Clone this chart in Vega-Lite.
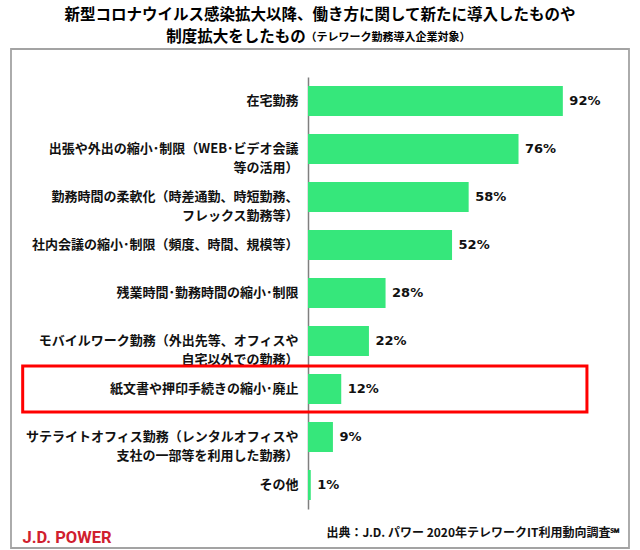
{
  "$schema": "https://vega.github.io/schema/vega-lite/v6.json",
  "width": 618,
  "height": 499,
  "autosize": {"type": "none"},
  "padding": {"left": 11, "top": 49, "right": 11, "bottom": 2},
  "background": "white",
  "config": {
    "font": "Noto Sans CJK JP",
    "view": {"stroke": "#a3a3a3", "strokeWidth": 1.8}
  },
  "title": {
    "text": [
      "新型コロナウイルス感染拡大以降、働き方に関して新たに導入したものや",
      "制度拡大をしたもの⠀⠀⠀⠀⠀⠀⠀⠀⠀⠀⠀⠀⠀⠀"
    ],
    "subtitle": "⠀⠀⠀⠀⠀⠀⠀⠀⠀⠀⠀⠀⠀⠀⠀⠀⠀（テレワーク勤務導入企業対象）",
    "anchor": "middle",
    "frame": "group",
    "font": "Noto Sans CJK JP",
    "fontSize": 15.5,
    "fontWeight": "bold",
    "color": "#000000",
    "lineHeight": 22,
    "subtitleFont": "Noto Sans CJK JP",
    "subtitleFontSize": 11,
    "subtitleFontWeight": "bold",
    "subtitleColor": "#000000",
    "subtitlePadding": -13,
    "offset": 4
  },
  "data": {
    "values": [
      {"item": "在宅勤務", "pct": 0.92},
      {"item": "出張や外出の縮小･制限（WEB･ビデオ会議|等の活用）", "pct": 0.76},
      {"item": "勤務時間の柔軟化（時差通勤、時短勤務、|フレックス勤務等）", "pct": 0.58},
      {"item": "社内会議の縮小･制限（頻度、時間、規模等）", "pct": 0.52},
      {"item": "残業時間･勤務時間の縮小･制限", "pct": 0.28},
      {"item": "モバイルワーク勤務（外出先等、オフィスや|自宅以外での勤務）", "pct": 0.22},
      {"item": "紙文書や押印手続きの縮小･廃止", "pct": 0.12},
      {"item": "サテライトオフィス勤務（レンタルオフィスや|支社の一部等を利用した勤務）", "pct": 0.09},
      {"item": "その他", "pct": 0.01}
    ]
  },
  "encoding": {
    "y": {
      "field": "item",
      "type": "nominal",
      "sort": null,
      "scale": {"range": [28, 460], "paddingInner": 0.375, "paddingOuter": 0.1875},
      "axis": {
        "title": "J.D. POWER",
        "titleAngle": 0,
        "titleX": -286,
        "titleY": 488,
        "titleAlign": "left",
        "titleBaseline": "middle",
        "titleColor": "#d0202e",
        "titleFont": "Roboto",
        "titleFontSize": 16.5,
        "titleFontWeight": "bold",
        "offset": -297,
        "domainColor": "#7f7f7f",
        "domainWidth": 1.5,
        "ticks": false,
        "tickSize": 0,
        "grid": false,
        "labelPadding": 10,
        "labelExpr": "split(datum.label, '|')",
        "labelFont": "Noto Sans CJK JP",
        "labelFontSize": 13,
        "labelFontWeight": "bold",
        "labelColor": "#111111",
        "labelLineHeight": 19,
        "labelLimit": 400
      }
    }
  },
  "layer": [
    {
      "mark": {"type": "bar", "color": "#36e77b"},
      "encoding": {
        "x": {
          "field": "pct",
          "type": "quantitative",
          "scale": {"domain": [0, 1], "range": [297, 574]},
          "axis": {
            "title": "出典：J.D. パワー 2020年テレワークIT利用動向調査℠",
            "titleX": 609,
            "titleY": -16,
            "titleAlign": "right",
            "titleBaseline": "middle",
            "titleFont": "Noto Sans CJK JP",
            "titleFontSize": 12,
            "titleFontWeight": "bold",
            "titleColor": "#111111",
            "labels": false,
            "ticks": false,
            "domain": false,
            "grid": false
          }
        }
      }
    },
    {
      "mark": {
        "type": "text",
        "align": "left",
        "baseline": "middle",
        "dx": 6.5,
        "font": "DejaVu Sans",
        "fontWeight": "bold",
        "fontSize": 13,
        "color": "#111111"
      },
      "encoding": {
        "x": {"field": "pct", "type": "quantitative"},
        "text": {"field": "pct", "type": "quantitative", "format": ".0%"}
      }
    },
    {
      "transform": [{"filter": "datum.item === '紙文書や押印手続きの縮小･廃止'"}],
      "mark": {"type": "bar", "filled": false, "stroke": "#ff0000", "strokeWidth": 3, "height": 46},
      "encoding": {
        "x": {"datum": -1.03},
        "x2": {"datum": 1.007}
      }
    }
  ]
}
